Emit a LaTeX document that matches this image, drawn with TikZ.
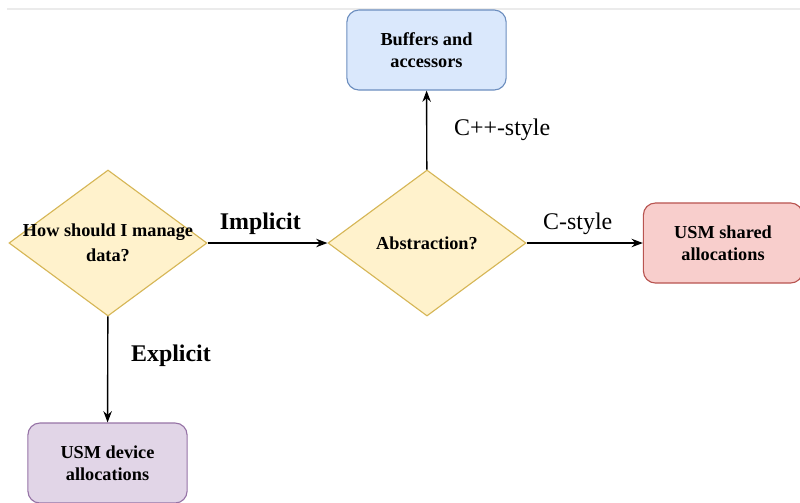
\documentclass[tikz,border=0pt]{standalone}
\usepackage{fontspec}
\setmainfont{Liberation Serif}
\usetikzlibrary{shapes.geometric,arrows.meta}
\definecolor{qfill}{HTML}{FFF2CC}
\definecolor{qline}{HTML}{D6B656}
\definecolor{bfill}{HTML}{DAE8FC}
\definecolor{bline}{HTML}{6C8EBF}
\definecolor{rfill}{HTML}{F8CECC}
\definecolor{rline}{HTML}{B85450}
\definecolor{pfill}{HTML}{E1D5E7}
\definecolor{pline}{HTML}{9673A6}

\begin{document}
\begin{tikzpicture}[x=0.025cm,y=-0.025cm,
    question/.style={diamond, draw=qline, fill=qfill, line width=0.8pt,
      minimum width=4.95cm, minimum height=3.65cm, inner sep=0pt},
    qtext/.style={font=\fontsize{13}{17.5}\selectfont\bfseries, align=center},
    choice/.style={rectangle, rounded corners=0.3cm, line width=0.8pt,
      minimum width=3.98cm, minimum height=2cm, align=center,
      font=\fontsize{13}{16}\selectfont\bfseries},
    lbl/.style={font=\fontsize{17}{20}\selectfont},
    link/.style={-{Stealth[length=8pt,width=6pt]}, line width=1pt}]
    \useasboundingbox (0,0) rectangle (800,502);
    \draw [black!8, line width=1.5pt] (7,9) -- (800,9);
    \node[question, label={[qtext]center:How should I manage\\data?}] (manage) at (108, 243) {};
    \node[question, label={[qtext]center:Abstraction?}] (abstr) at (427, 243) {};
    \node[choice, draw=bline, fill=bfill] (buf) at (426.5, 50) {Buffers and\\accessors};
    \node[choice, draw=rline, fill=rfill] (shared) at (723, 243) {USM shared\\allocations};
    \node[choice, draw=pline, fill=pfill] (device) at (107.5, 463) {USM device\\allocations};
    \draw [link] (manage) to node[pos=0.44, above=2pt, lbl] {\bfseries Implicit} (abstr);
    \draw [link] (abstr) to node[pos=0.5, right=0.55cm, lbl] {C++-style} (buf);
    \draw [link] (abstr) to node[pos=0.44, above=2pt, lbl] {C-style} (shared);
    \draw [link] (manage) to node[pos=0.37, right=0.45cm, lbl] {\bfseries Explicit} (device);
  \end{tikzpicture}
\end{document}
